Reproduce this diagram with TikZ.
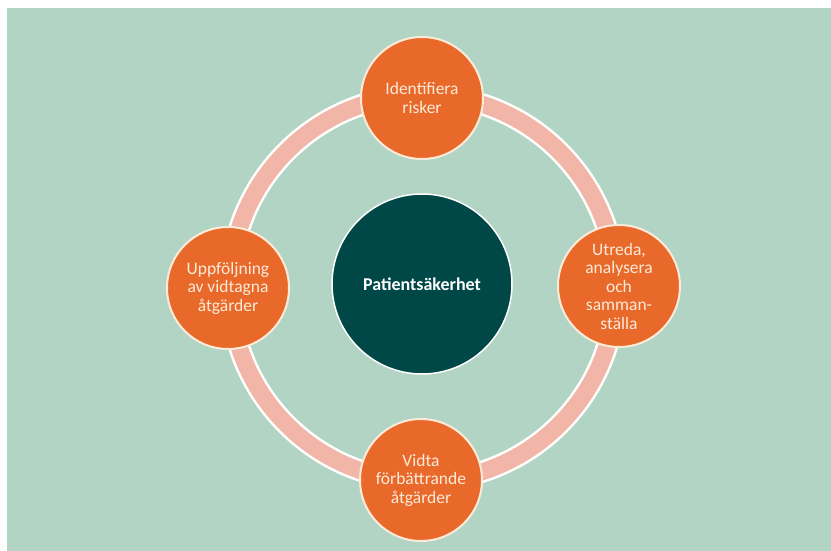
\documentclass[tikz,border=0pt]{standalone}
\usepackage{fontspec}
\setmainfont{Carlito}
\definecolor{bggreen}{HTML}{B2D4C4}
\definecolor{orng}{HTML}{E9692B}
\definecolor{ringpink}{HTML}{F2B6A8}
\definecolor{teal}{HTML}{004848}
\definecolor{cream}{HTML}{FCEBD9}
\tikzset{
  stage/.style={circle, draw=cream, line width=2pt, fill=orng, text=cream,
    minimum size=122pt, inner sep=0pt, align=center,
    font=\fontsize{17.5}{18.5}\selectfont},
  hub/.style={circle, draw=white, line width=1.5pt, fill=teal, text=white,
    minimum size=180pt, inner sep=0pt, align=center,
    font=\fontsize{18}{19}\selectfont\bfseries},
}
\begin{document}
\begin{tikzpicture}[x=1pt,y=-1pt]
\useasboundingbox (0,0) rectangle (831,551);
\fill[white] (0,0) rectangle (831,551);
\fill[bggreen] (7,8) rectangle (831,551);
\coordinate (ring) at (423,288);
\draw[white, line width=22pt] (ring) circle[radius=193pt];
\draw[ringpink, line width=17pt] (ring) circle[radius=193pt];
\node[hub] (c) at (422,284) {Patientsäkerhet};
\node[stage] (top) at (422,98) {Identifiera\\risker};
\node[stage] (right) at (619,286) {Utreda,\\analysera\\och\\samman-\\ställa};
\node[stage] (bot) at (421,480) {Vidta\\förbättrande\\åtgärder};
\node[stage] (left) at (228,288) {Uppföljning\\av vidtagna\\åtgärder};
\end{tikzpicture}
\end{document}
